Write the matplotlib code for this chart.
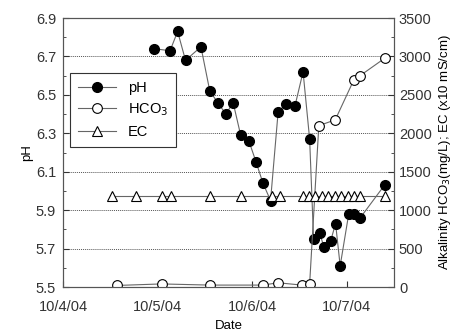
import pandas as pd
import matplotlib
matplotlib.use("Agg")
import matplotlib.pyplot as plt
import matplotlib.dates as mdates
from matplotlib.ticker import MultipleLocator

plt.rcParams['font.family'] = ['Liberation Sans', 'DejaVu Sans']

# pH (left axis)
ph_times = ["2004-10-04 23:10", "2004-10-05 03:10", "2004-10-05 05:05", "2004-10-05 07:05",
            "2004-10-05 11:00", "2004-10-05 13:15", "2004-10-05 15:15", "2004-10-05 17:20",
            "2004-10-05 19:10", "2004-10-05 21:05", "2004-10-05 23:10", "2004-10-06 01:00",
            "2004-10-06 02:45", "2004-10-06 04:40", "2004-10-06 06:35", "2004-10-06 08:30",
            "2004-10-06 10:50", "2004-10-06 12:55", "2004-10-06 14:35", "2004-10-06 15:35",
            "2004-10-06 17:10", "2004-10-06 18:10", "2004-10-06 19:55", "2004-10-06 21:10",
            "2004-10-06 22:20", "2004-10-07 00:30", "2004-10-07 01:50", "2004-10-07 03:25",
            "2004-10-07 09:35"]
ph_values = [6.74, 6.73, 6.83, 6.68, 6.75, 6.52, 6.46, 6.40, 6.46, 6.29, 6.26, 6.15, 6.04, 5.95,
             6.41, 6.45, 6.44, 6.62, 6.27, 5.75, 5.78, 5.71, 5.74, 5.83, 5.61, 5.88, 5.88, 5.86, 6.03]

# alkalinity HCO3 (right axis)
hco3_times = ["2004-10-04 13:35", "2004-10-05 01:00", "2004-10-05 13:15", "2004-10-06 02:40",
              "2004-10-06 06:35", "2004-10-06 12:35", "2004-10-06 14:35", "2004-10-06 16:55",
              "2004-10-06 21:05", "2004-10-07 01:45", "2004-10-07 03:15", "2004-10-07 09:35"]
hco3_values = [20, 40, 25, 25, 55, 25, 40, 2100, 2175, 2690, 2745, 2975]

# EC (right axis)
ec_times = ["2004-10-04 12:30", "2004-10-04 18:25", "2004-10-05 01:00", "2004-10-05 03:20",
            "2004-10-05 13:15", "2004-10-05 21:05", "2004-10-06 04:55", "2004-10-06 07:00",
            "2004-10-06 12:50", "2004-10-06 14:20", "2004-10-06 16:00", "2004-10-06 17:40",
            "2004-10-06 19:15", "2004-10-06 20:55", "2004-10-06 22:25", "2004-10-07 00:15",
            "2004-10-07 01:45", "2004-10-07 03:20", "2004-10-07 09:35"]
ec_values = [1190, 1190, 1190, 1190, 1190, 1190, 1190, 1190, 1190, 1190,
             1190, 1190, 1190, 1190, 1190, 1190, 1190, 1190, 1190]

x_ticks = ["2004-10-04", "2004-10-05", "2004-10-06", "2004-10-07"]
ph_ticks = [5.5, 5.7, 5.9, 6.1, 6.3, 6.5, 6.7, 6.9]
ph_minor = [5.6, 5.8, 6.0, 6.2, 6.4, 6.6, 6.8]

fig = plt.figure(figsize=(4.55, 3.34), dpi=100)
ax = fig.add_axes([0.1385, 0.1407, 0.7275, 0.8053])
ax2 = ax.twinx()

line_kw = dict(color='#666666', linewidth=0.8)
l1, = ax.plot(pd.to_datetime(ph_times), ph_values, marker='o', markersize=7,
              markerfacecolor='black', markeredgecolor='black', label='pH', **line_kw)
l2, = ax2.plot(pd.to_datetime(hco3_times), hco3_values, marker='o', markersize=7,
               markerfacecolor='white', markeredgecolor='black', markeredgewidth=0.8,
               label='HCO$_3$', **line_kw)
l3, = ax2.plot(pd.to_datetime(ec_times), ec_values, marker='^', markersize=7.5,
               markerfacecolor='white', markeredgecolor='black', markeredgewidth=0.8,
               label='EC', **line_kw)

ax.set_xlim(pd.Timestamp("2004-10-04"), pd.Timestamp("2004-10-07 12:00"))
ax.set_ylim(5.5, 6.9)
ax2.set_ylim(0, 3500)

ax.set_yticks(ph_ticks)
ax.set_yticks(ph_minor, minor=True)
ax.set_yticklabels([f"{v:.1f}" for v in ph_ticks])
ax2.yaxis.set_major_locator(MultipleLocator(500))
ax2.yaxis.set_minor_locator(MultipleLocator(250))
ax.set_xticks(pd.to_datetime(x_ticks))
ax.xaxis.set_major_formatter(mdates.DateFormatter('%-m/%-d/%y'))

for a in (ax, ax2):
    a.tick_params(which='both', direction='in', labelsize=10.5, colors='#333333')
    a.tick_params(which='major', length=4)
    a.tick_params(which='minor', length=2)
    for s in a.spines.values():
        s.set_color('#555555')
ax.tick_params(axis='x', pad=9)
ax.tick_params(axis='y', pad=5)

ax.grid(axis='y', which='major', linestyle=(0, (1, 1)), color='#555555', linewidth=0.7)

ax.set_ylabel('pH', fontsize=9.5, labelpad=2)
ax.set_xlabel('Date', fontsize=9.5, labelpad=5)
ax2.set_ylabel('Alkalinity HCO$_3$(mg/L); EC (x10 mS/cm)', fontsize=9.5, labelpad=4)

leg = ax2.legend(handles=[l1, l2, l3], loc='upper left', bbox_to_anchor=(0.021, 0.796),
                 borderaxespad=0, fontsize=10.5, fancybox=False, framealpha=1,
                 edgecolor='#333333', handlelength=2.6, labelspacing=0.45,
                 borderpad=0.55)
leg.get_frame().set_linewidth(0.8)

fig.savefig('out.png', dpi=100)
